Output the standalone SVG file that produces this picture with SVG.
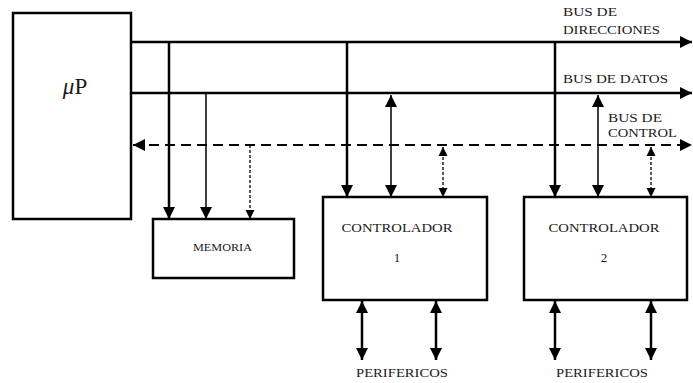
<svg xmlns="http://www.w3.org/2000/svg" width="693" height="383" viewBox="0 0 693 383">
<style>
.box{fill:#fff;stroke:#000;stroke-width:2.5}
.lbl{font-family:"Liberation Serif","DejaVu Serif","Times New Roman",serif;font-size:13px;fill:#1a1a1a}
.bus{stroke:#000;stroke-width:2.5;fill:none}
.thin{stroke:#000;stroke-width:1.5;fill:none}
.dash{stroke:#000;stroke-width:2;fill:none;stroke-dasharray:10 6}
.dot{stroke:#000;stroke-width:1.3;fill:none;stroke-dasharray:3 2}
</style>
<defs>
<marker id="ah" markerUnits="userSpaceOnUse" markerWidth="14" markerHeight="12" refX="12" refY="6" orient="auto-start-reverse" viewBox="0 0 14 12"><path d="M0,0 L12,6 L0,12 z" fill="#000"/></marker>
<marker id="ahs" markerUnits="userSpaceOnUse" markerWidth="10" markerHeight="10" refX="9" refY="4.5" orient="auto-start-reverse" viewBox="0 0 10 9"><path d="M0,0 L9,4.5 L0,9 z" fill="#000"/></marker>
</defs>
<g id="connectors">
<line class="bus" x1="131" y1="42" x2="692" y2="42" marker-end="url(#ah)"/>
<line class="bus" x1="131" y1="93" x2="692" y2="93" marker-end="url(#ah)"/>
<line class="dash" x1="133" y1="145" x2="692" y2="145" marker-start="url(#ah)" marker-end="url(#ah)"/>
<line class="bus" x1="169" y1="42" x2="169" y2="219" marker-end="url(#ah)"/>
<line class="thin" x1="206" y1="93" x2="206" y2="219" marker-end="url(#ah)"/>
<line class="dot" x1="250" y1="145" x2="250" y2="219" marker-end="url(#ahs)"/>
<line class="bus" x1="347" y1="42" x2="347" y2="197" marker-end="url(#ah)"/>
<line class="thin" x1="391" y1="95" x2="391" y2="197" marker-start="url(#ah)" marker-end="url(#ah)"/>
<line class="dot" x1="443" y1="147" x2="443" y2="197" marker-start="url(#ahs)" marker-end="url(#ahs)"/>
<line class="bus" x1="555" y1="42" x2="555" y2="197" marker-end="url(#ah)"/>
<line class="thin" x1="598" y1="95" x2="598" y2="197" marker-start="url(#ah)" marker-end="url(#ah)"/>
<line class="dot" x1="651" y1="147" x2="651" y2="197" marker-start="url(#ahs)" marker-end="url(#ahs)"/>
<line class="bus" x1="362" y1="301" x2="362" y2="360" marker-start="url(#ah)" marker-end="url(#ah)"/>
<line class="bus" x1="436" y1="301" x2="436" y2="360" marker-start="url(#ah)" marker-end="url(#ah)"/>
<line class="bus" x1="555" y1="301" x2="555" y2="360" marker-start="url(#ah)" marker-end="url(#ah)"/>
<line class="bus" x1="651" y1="301" x2="651" y2="360" marker-start="url(#ah)" marker-end="url(#ah)"/>
</g>
<g id="up">
<rect class="box" x="13" y="13" width="118" height="206" stroke-width="3"/>
<text class="lbl" x="75" y="94" text-anchor="middle" style="font-size:23px"><tspan font-style="italic">μ</tspan>P</text>
</g>
<g id="memoria">
<rect class="box" x="153" y="219" width="141" height="59"/>
<text class="lbl" x="222.5" y="251" text-anchor="middle" style="font-size:10px" textLength="59" lengthAdjust="spacingAndGlyphs">MEMORIA</text>
</g>
<g id="controlador1">
<rect class="box" x="323" y="197" width="164" height="103"/>
<text class="lbl" x="397" y="232" text-anchor="middle" textLength="111" lengthAdjust="spacingAndGlyphs">CONTROLADOR</text>
<text class="lbl" x="397" y="262" text-anchor="middle">1</text>
</g>
<g id="controlador2">
<rect class="box" x="524" y="197" width="163" height="103"/>
<text class="lbl" x="604" y="232" text-anchor="middle" textLength="111" lengthAdjust="spacingAndGlyphs">CONTROLADOR</text>
<text class="lbl" x="604" y="262" text-anchor="middle">2</text>
</g>
<g id="labels">
<text class="lbl" x="563" y="16" textLength="54" lengthAdjust="spacingAndGlyphs">BUS DE</text>
<text class="lbl" x="563" y="34" textLength="97" lengthAdjust="spacingAndGlyphs">DIRECCIONES</text>
<text class="lbl" x="563" y="83" textLength="105" lengthAdjust="spacingAndGlyphs">BUS DE DATOS</text>
<text class="lbl" x="608" y="122" textLength="54" lengthAdjust="spacingAndGlyphs">BUS DE</text>
<text class="lbl" x="608" y="137" textLength="69" lengthAdjust="spacingAndGlyphs">CONTROL</text>
<text class="lbl" x="402" y="377" text-anchor="middle" textLength="92" lengthAdjust="spacingAndGlyphs">PERIFERICOS</text>
<text class="lbl" x="602" y="377" text-anchor="middle" textLength="92" lengthAdjust="spacingAndGlyphs">PERIFERICOS</text>
</g>
</svg>
